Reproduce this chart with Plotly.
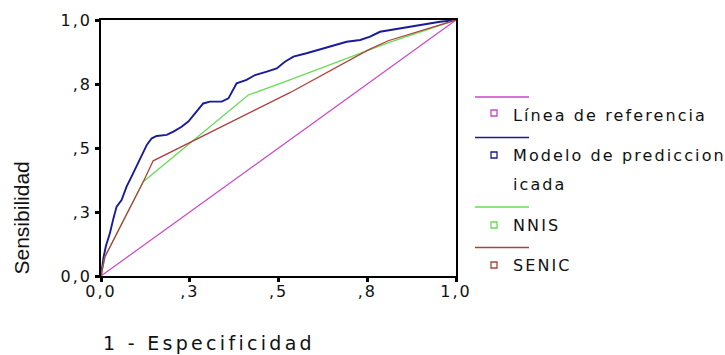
import plotly.graph_objects as go

# ---- data ----
tick_vals = [0, 0.25, 0.5, 0.75, 1.0]
tick_text = ["0,0", ",3", ",5", ",8", "1,0"]

ref_x = [0, 1]
ref_y = [0, 1]

modelo_x = [0, 0.007, 0.014, 0.025, 0.035, 0.044, 0.058, 0.072, 0.086, 0.100, 0.115,
            0.129, 0.143, 0.157, 0.185, 0.204, 0.227, 0.246, 0.269, 0.288, 0.307,
            0.340, 0.359, 0.382, 0.410, 0.434, 0.467, 0.495, 0.518, 0.542, 0.579,
            0.617, 0.654, 0.692, 0.730, 0.758, 0.786, 0.842, 0.899, 0.955, 1.0]
modelo_y = [0, 0.072, 0.118, 0.167, 0.225, 0.271, 0.297, 0.349, 0.388, 0.427, 0.473,
            0.512, 0.538, 0.547, 0.551, 0.564, 0.583, 0.603, 0.642, 0.674, 0.681,
            0.681, 0.694, 0.753, 0.766, 0.785, 0.798, 0.811, 0.837, 0.857, 0.870,
            0.885, 0.902, 0.915, 0.922, 0.935, 0.954, 0.967, 0.980, 0.993, 1.0]

nnis_x = [0, 0.011, 0.119, 0.415, 0.532, 0.755, 0.81, 1.0]
nnis_y = [0, 0.075, 0.368, 0.707, 0.766, 0.883, 0.912, 1.0]

senic_x = [0, 0.011, 0.119, 0.147, 0.532, 0.753, 0.809, 1.0]
senic_y = [0, 0.075, 0.368, 0.450, 0.716, 0.883, 0.919, 1.0]

names = ["Línea de referencia", "Modelo de prediccion<br>icada", "NNIS", "SENIC"]
colors = ["#cc44cc", "#1a1a9a", "#66dd55", "#b04040"]
series = [(ref_x, ref_y), (modelo_x, modelo_y), (nnis_x, nnis_y), (senic_x, senic_y)]
widths = [1.2, 1.9, 1.3, 1.3]

fig = go.Figure()
for (xs, ys), c, w, n in zip(series, colors, widths, names):
    fig.add_trace(go.Scatter(x=xs, y=ys, mode="lines", line=dict(color=c, width=w),
                             name=n, showlegend=False, hoverinfo="skip"))

W, H = 725, 355
L, R, T, B = 101, 456, 20, 276
pw, ph = R - L, B - T

def px(xp):
    return (xp - L) / pw

def py(yp):
    return (B - yp) / ph

axis_common = dict(range=[0, 1], tickvals=tick_vals, ticktext=tick_text,
                   showgrid=False, zeroline=False, showline=True, linecolor="black",
                   linewidth=1.5, mirror=True, ticks="outside", ticklen=4, tickwidth=3,
                   tickcolor="black",
                   tickfont=dict(family="DejaVu Sans", size=16, color="#111111"))
fig.update_xaxes(**axis_common, ticklabelstandoff=-4)
fig.update_yaxes(**axis_common)

shapes = []
annotations = []
# legend drawn by hand to mimic the SPSS layout
leg_line_y = [97, 137.5, 207, 247.5]
leg_mark_y = [113, 155, 225, 265]
leg_text_y = [[115], [155, 184], [225], [265]]
leg_labels = [["Línea de referencia"], ["Modelo de prediccion", "icada"], ["NNIS"], ["SENIC"]]
for i, c in enumerate(colors):
    shapes.append(dict(type="line", xref="paper", yref="paper",
                       x0=px(475), x1=px(529), y0=py(leg_line_y[i]), y1=py(leg_line_y[i]),
                       line=dict(color=c, width=1.5)))
    shapes.append(dict(type="rect", xref="paper", yref="paper",
                       x0=px(491), x1=px(497), y0=py(leg_mark_y[i] + 3), y1=py(leg_mark_y[i] - 3),
                       line=dict(color=c, width=1.3), fillcolor="white"))
    for t, ty in zip(leg_labels[i], leg_text_y[i]):
        annotations.append(dict(text=t, xref="paper", yref="paper", x=px(511), y=py(ty),
                                xanchor="left", yanchor="middle", align="left",
                                showarrow=False,
                                font=dict(family="DejaVu Sans", size=16, color="#111111")))

annotations.append(dict(text="1 - Especificidad", xref="paper", yref="paper",
                        x=px(101), y=py(343), xanchor="left", yanchor="middle",
                        align="left", showarrow=False,
                        font=dict(family="DejaVu Sans", size=19, color="#111111")))
annotations.append(dict(text="Sensibilidad", xref="paper", yref="paper",
                        x=px(21), y=py(218.5), xanchor="center", yanchor="middle",
                        textangle=-90, showarrow=False,
                        font=dict(family="Liberation Sans", size=21, color="#111111")))

fig.update_layout(width=W, height=H, margin=dict(l=L, r=W - R, t=T, b=H - B),
                  paper_bgcolor="white", plot_bgcolor="white",
                  shapes=shapes, annotations=annotations, showlegend=False)

css = ("var s=document.createElement('style');"
       "s.innerHTML='html,body{margin:0;padding:0;overflow:hidden}"
       ".xtick text{letter-spacing:2px}.ytick text{letter-spacing:2px}"
       ".annotation text{letter-spacing:2.1px}"
       ".annotation[data-index=\"5\"] text{letter-spacing:3.3px}"
       ".annotation[data-index=\"6\"] text{letter-spacing:0px}';"
       "document.head.appendChild(s);")
fig.write_html("out.html", post_script=css, config={"displayModeBar": False})
